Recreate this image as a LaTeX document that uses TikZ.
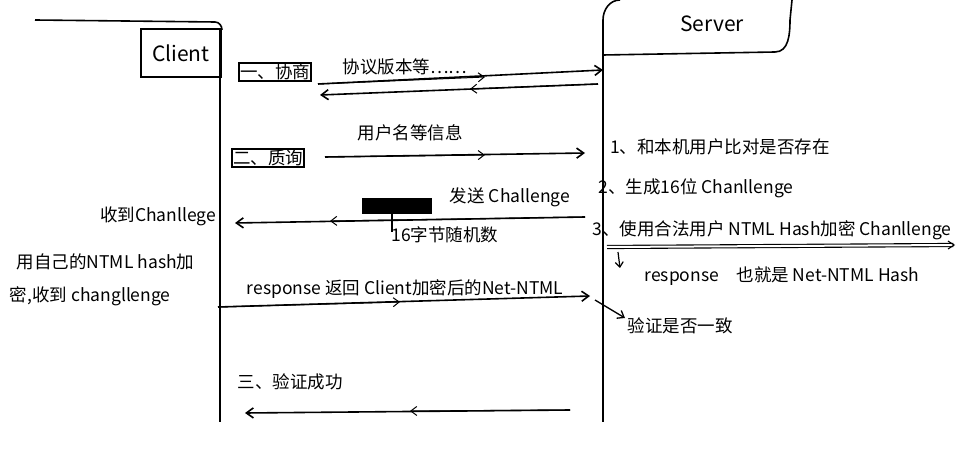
\documentclass[tikz,border=0pt]{standalone}
\usepackage{fontspec}
\setmainfont{Noto Sans CJK SC}
\usetikzlibrary{arrows.meta}
\begin{document}
\begin{tikzpicture}[x=1pt,y=-1pt,line width=1.6pt,
  msg/.style={-{Straight Barb[length=7pt,width=10pt]}},
  txt/.style={font=\fontsize{17.5}{19}\selectfont,inner sep=1pt},
  big/.style={font=\fontsize{21}{23}\selectfont,inner sep=1pt}]
\useasboundingbox[fill=white] (0,0) rectangle (958,454);
% Client
\draw (35,20) -- (215,22) to[out=0,in=90] (222,30);
\node[big,draw,line width=1.6pt,minimum width=80,minimum height=48,anchor=north west] (client) at (140,28) {Client};
\coordinate (ct) at (220,28); \coordinate (cb) at (220,422);
\draw (ct) -- (cb);
% Server
\draw (603,40) -- (603,20) to[out=90,in=180] (620,0);
\draw (603,55) -- (775,52) to[out=0,in=-90] (790,20) -- (792,0);
\node[big] (server) at (712,24) {Server};
\coordinate (st) at (603,40); \coordinate (sb) at (603,422);
\draw (st) -- (sb);
% 1 negotiate
\node[txt,draw,line width=1.4pt] (n1) at (275,72) {一、协商};
\node[txt] (n1b) at (405,67) {协议版本等……};
\coordinate (a1s) at (318,84); \coordinate (a1e) at (603,70);
\draw[msg] (a1s) -- (a1e);
\draw[-{Straight Barb[length=6pt,width=9pt]},line width=1pt] (a1s) -- (485,77);
\coordinate (a2s) at (598,84); \coordinate (a2e) at (320,95);
\draw[msg] (a2s) -- (a2e);
\draw[-{Straight Barb[length=6pt,width=9pt]},line width=1pt] (a2s) -- (470,89);
% 2 challenge
\node[txt,draw,line width=1.4pt] (n2) at (268,158) {二、质询};
\node[txt] (n2b) at (410,133) {用户名等信息};
\coordinate (b1s) at (325,157); \coordinate (b1e) at (585,153);
\draw[msg] (b1s) -- (b1e);
\draw[-{Straight Barb[length=6pt,width=9pt]},line width=1pt] (b1s) -- (485,155);
\node[txt] (s1) at (720,147) {1、和本机用户比对是否存在};
\node[txt] (s2) at (696,188) {2、生成16位 Chanllenge};
\fill (362,198) rectangle (432,214);
\node[txt] (c1) at (510,197) {发送 Challenge};
\coordinate (c2s) at (585,217); \coordinate (c2e) at (235,223);
\draw[msg] (c2s) -- (c2e);
\draw[-{Straight Barb[length=6pt,width=9pt]},line width=1pt] (c2s) -- (330,221);
\draw[line width=1.2pt] (392,214) -- (392,232);
\node[txt] (c3) at (445,235) {16字节随机数};
\node[txt,anchor=east] (l1) at (218,216) {收到Chanllege};
\node[txt,anchor=west] (l2) at (15,262) {用自己的NTML hash加};
\node[txt,anchor=west] (l3) at (8,296) {密,收到 changllenge};
\node[txt] (s3) at (772,230) {3、使用合法用户 NTML Hash加密 Chanllenge};
\coordinate (d1s) at (607,247); \coordinate (d1e) at (955,245);
\draw[double,double distance=2pt,line width=1.1pt,-{Straight Barb[length=6pt,width=8pt]}] (d1s) -- (d1e);
\coordinate (dd1) at (618,252); \coordinate (dd2) at (620,268);
\draw[line width=1.2pt,-{Straight Barb[length=5pt,width=8pt]}] (dd1) -- (dd2);
\node[txt] (s4) at (782,276) {response\quad 也就是 Net-NTML Hash};
% response
\node[txt] (r1) at (405,289) {response 返回 Client加密后的Net-NTML};
\coordinate (r1s) at (218,307); \coordinate (r1e) at (590,296);
\draw[msg] (r1s) -- (r1e);
\draw[-{Straight Barb[length=6pt,width=9pt]},line width=1pt] (r1s) -- (400,302);
\coordinate (v1) at (595,300); \coordinate (v2) at (625,318);
\draw[line width=1.3pt,-{Straight Barb[length=6pt,width=9pt]}] (v1) -- (v2);
\node[txt] (s5) at (680,326) {验证是否一致};
% success
\node[txt] (ok) at (290,382) {三、验证成功};
\coordinate (e1s) at (570,410); \coordinate (e1e) at (245,413);
\draw[msg] (e1s) -- (e1e);
\draw[-{Straight Barb[length=6pt,width=9pt]},line width=1pt] (e1s) -- (410,411);
\end{tikzpicture}
\end{document}
